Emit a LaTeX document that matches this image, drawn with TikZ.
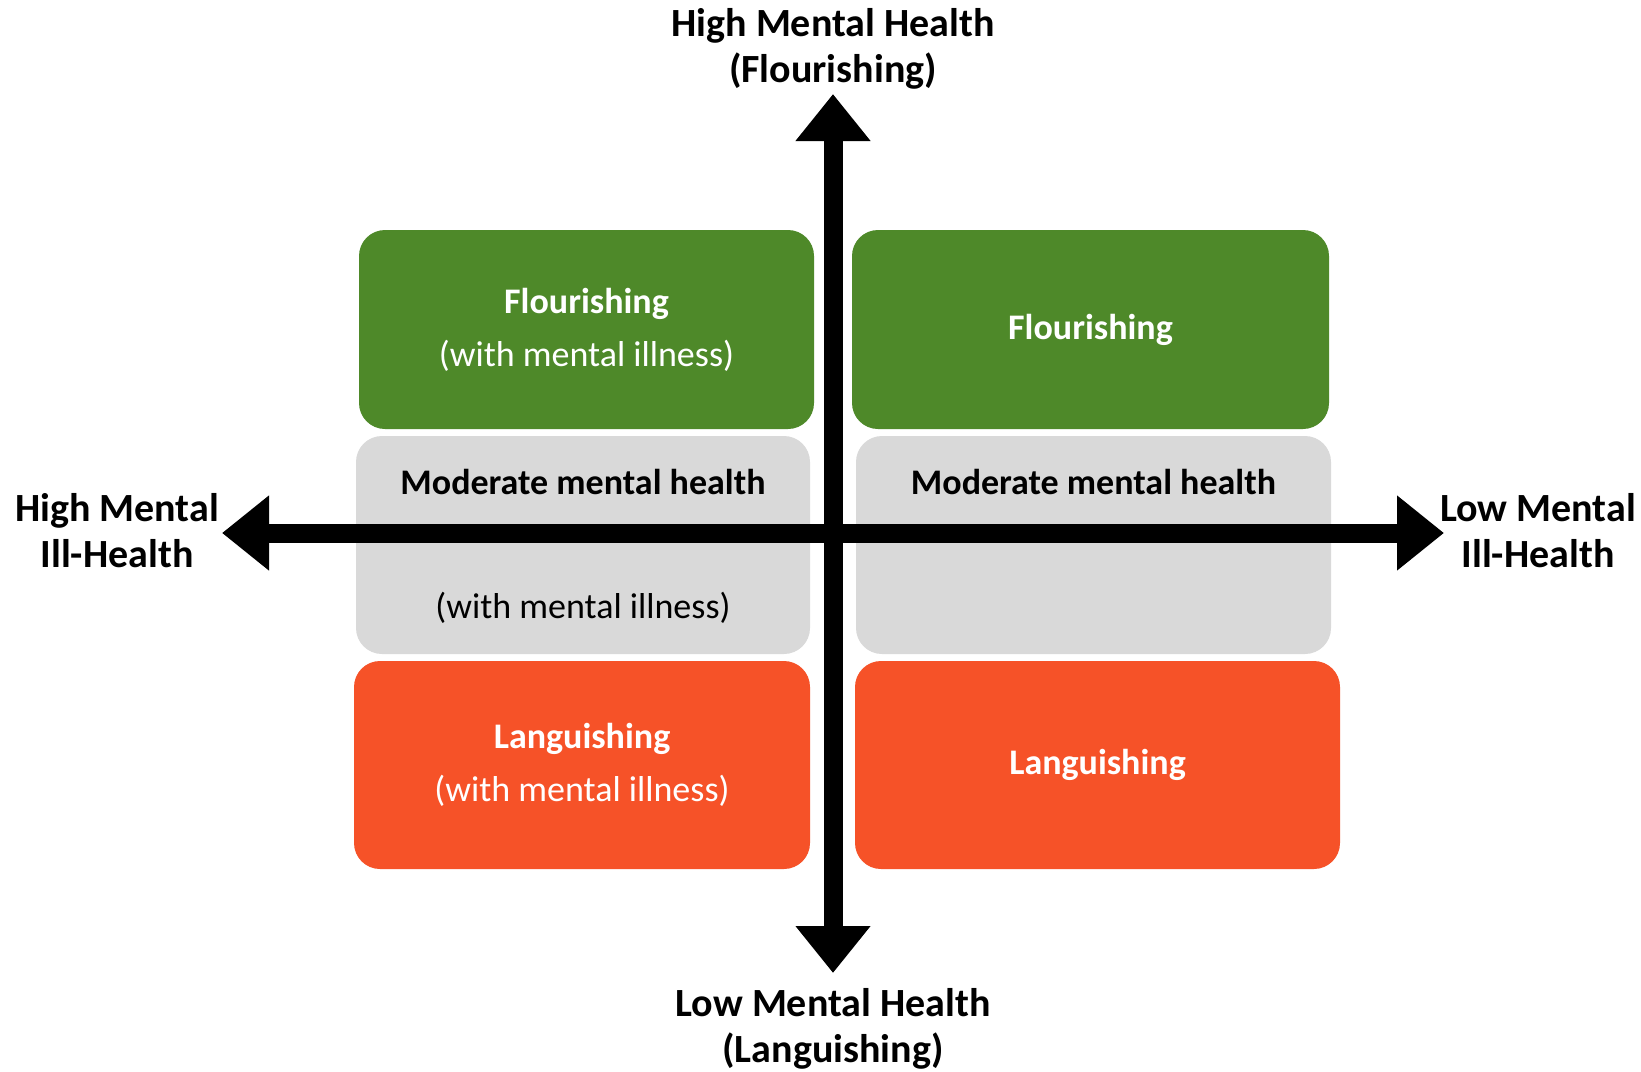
\documentclass[tikz,border=0pt]{standalone}
\usepackage{fontspec}
\setmainfont{Carlito}
\usepackage{tikz}
\usetikzlibrary{arrows.meta,positioning}
\definecolor{flourgreen}{RGB}{78,137,41}
\definecolor{modgray}{RGB}{217,217,217}
\definecolor{langorange}{RGB}{246,82,40}
\tikzstyle{quad} = [rounded corners=26pt, inner sep=0pt, align=center, text=white, font=\fontsize{36}{53}\selectfont]
\tikzstyle{modtext} = [font=\fontsize{36}{53}\selectfont]
\tikzstyle{axislabel} = [align=center, font=\fontsize{40}{46}\selectfont\bfseries]
\tikzstyle{axis} = [line width=19pt, {Triangle[length=47pt,width=72pt]}-{Triangle[length=47pt,width=72pt]}]

\begin{document}
\begin{tikzpicture}[x=1pt,y=-1pt]
	\fill[white] (0,0) rectangle (1641,1071);
	\useasboundingbox (0,0) rectangle (1641,1071);
	% quadrants
	\node[quad, fill=flourgreen, minimum width=455pt, minimum height=199pt] (flourill) at (586.5,329.5) {\textbf{Flourishing}\\(with mental illness)};
	\node[quad, fill=flourgreen, minimum width=477pt, minimum height=199pt] (flour) at (1090.5,329.5) {\textbf{Flourishing}};
	\node[quad, fill=modgray, minimum width=454pt, minimum height=218pt] (modill) at (583,545) {};
	\node[quad, fill=modgray, minimum width=475pt, minimum height=218pt] (mod) at (1093.5,545) {};
	\node[quad, fill=langorange, minimum width=456pt, minimum height=208pt] (langill) at (582,765) {\textbf{Languishing}\\(with mental illness)};
	\node[quad, fill=langorange, minimum width=485pt, minimum height=208pt] (lang) at (1097.5,765) {\textbf{Languishing}};
	\node[modtext] (modilltop) at (583,482) {\textbf{Moderate mental health}};
	\node[modtext] (modillbot) at (583,608) {(with mental illness)};
	\node[modtext] (modtop) at (1093.5,482) {\textbf{Moderate mental health}};
	% axes
	\coordinate (top) at (833,94);
	\coordinate (bottom) at (833,973);
	\coordinate (left) at (222,533);
	\coordinate (right) at (1444,533);
	\draw[axis] (top) -- (bottom);
	\draw[axis] (left) -- (right);
	\node[axislabel] (hmh) at (833,49) {High Mental Health\\(Flourishing)};
	\node[axislabel] (lmh) at (833,1029) {Low Mental Health\\(Languishing)};
	\node[axislabel] (hmi) at (117,531) {High Mental\\Ill-Health};
	\node[axislabel] (lmi) at (1538,531) {Low Mental\\Ill-Health};
\end{tikzpicture}
\end{document}
